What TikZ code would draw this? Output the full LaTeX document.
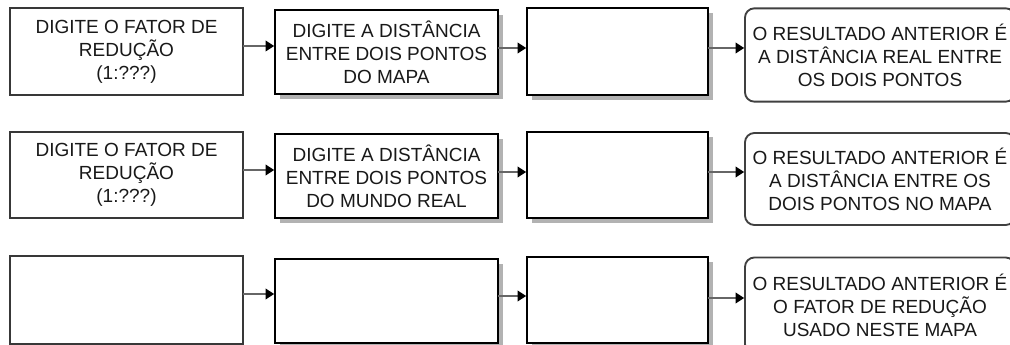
\documentclass[tikz,border=0pt]{standalone}
\usepackage{fontspec}
\setmainfont{Liberation Sans}
\usetikzlibrary{arrows.meta,shadows}
\begin{document}
\begin{tikzpicture}[x=0.75pt,y=-0.75pt,
  every node/.style={font=\fontsize{14.25pt}{17.25pt}\selectfont, text=black!90, align=center, inner sep=0pt, outer sep=0pt},
  inbox/.style={draw=black!78, line width=1.4pt, fill=white, minimum width=174.75pt},
  procbox/.style={draw=black, line width=1.7pt, fill=white, general shadow={fill=black!30, shadow xshift=3.75pt, shadow yshift=-3.75pt}},
  midbox/.style={procbox, minimum width=167.25pt, minimum height=63pt},
  emptybox/.style={procbox, minimum width=135.75pt},
  outbox/.style={draw=black!75, line width=1.4pt, fill=white, rounded corners=7pt, minimum width=202.5pt, minimum height=70pt},
  arr/.style={draw=black!60, line width=1.2pt, shorten >=0.6pt, -{Triangle[length=6.5pt,width=8pt,color=black]}}
]
\useasboundingbox (0,0) rectangle (1010,345);
\clip (0,0) rectangle (1010,345);

% Row 1
\node[inbox, minimum height=65.25pt] (b11) at (126.5,51.5) {DIGITE O FATOR DE\\REDUÇÃO\\(1:???)};
\node[midbox] (b12) at (386.5,52) {DIGITE A DISTÂNCIA\\ENTRE DOIS PONTOS\\DO MAPA};
\node[emptybox, minimum height=65.25pt] (b13) at (617.5,51.5) {};
\node[outbox] (b14) at (880,55) {O RESULTADO ANTERIOR É\\A DISTÂNCIA REAL ENTRE\\OS DOIS PONTOS};

% Row 2
\node[inbox, minimum height=64.5pt] (b21) at (126.5,175) {DIGITE O FATOR DE\\REDUÇÃO\\(1:???)};
\node[midbox] (b22) at (386.5,176) {DIGITE A DISTÂNCIA\\ENTRE DOIS PONTOS\\DO MUNDO REAL};
\node[emptybox, minimum height=64.5pt] (b23) at (617.5,175) {};
\node[outbox, minimum height=69pt] (b24) at (880,179) {O RESULTADO ANTERIOR É\\A DISTÂNCIA ENTRE OS\\DOIS PONTOS NO MAPA};

% Row 3
\node[inbox, minimum height=66pt] (b31) at (126.5,300) {};
\node[midbox] (b32) at (386.5,301) {};
\node[emptybox, minimum height=64.5pt] (b33) at (617.5,300) {};
\node[outbox, minimum height=72pt] (b34) at (880,305.5) {O RESULTADO ANTERIOR É\\O FATOR DE REDUÇÃO\\USADO NESTE MAPA};

% Arrows
\draw[arr] (b11.east |- 0,46) -- (b12.west |- 0,46);
\draw[arr] (b12.east |- 0,48) -- (b13.west |- 0,48);
\draw[arr] (b13.east |- 0,48) -- (b14.west |- 0,48);
\draw[arr] (b21.east |- 0,170) -- (b22.west |- 0,170);
\draw[arr] (b22.east |- 0,172) -- (b23.west |- 0,172);
\draw[arr] (b23.east |- 0,172) -- (b24.west |- 0,172);
\draw[arr] (b31.east |- 0,294) -- (b32.west |- 0,294);
\draw[arr] (b32.east |- 0,296) -- (b33.west |- 0,296);
\draw[arr] (b33.east |- 0,298) -- (b34.west |- 0,298);
\end{tikzpicture}
\end{document}
